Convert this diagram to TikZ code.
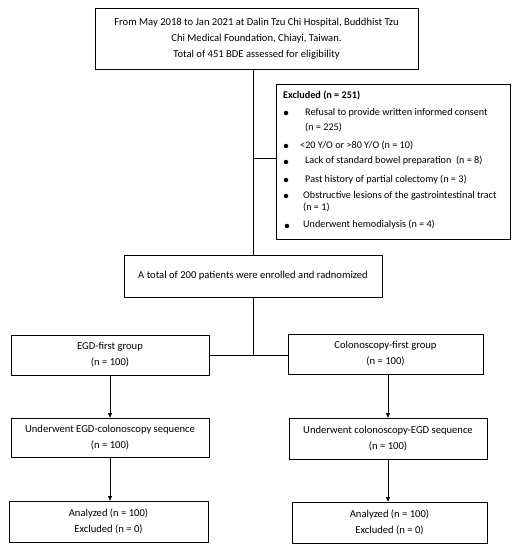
\documentclass[tikz,border=0pt]{standalone}
\usepackage{fontspec}
\setmainfont{Carlito}
\usetikzlibrary{arrows.meta}
\begin{document}
\begin{tikzpicture}[x=1pt,y=-1pt,
  box/.style={draw=black,line width=0.7pt,inner sep=0pt,align=center,
    font=\fontsize{10.6}{16}\selectfont},
  conn/.style={draw=black,line width=0.7pt},
  arr/.style={conn,-{Triangle[length=4.5pt,width=4pt]}},
  ex/.style={anchor=mid west,inner sep=0pt,font=\fontsize{10.2}{12}\selectfont},
  dot/.style={circle,fill=black,inner sep=0pt,minimum size=4.5pt}]
\useasboundingbox (0,0) rectangle (518,550);
\node[box,minimum width=323pt,minimum height=61pt] (top) at (256.5,38.5)
  {From May 2018 to Jan 2021 at Dalin Tzu Chi Hospital, Buddhist Tzu\\
   Chi Medical Foundation, Chiayi, Taiwan.\\
   Total of 451 BDE assessed for eligibility};
\node[box,minimum width=234pt,minimum height=155pt] (excl) at (393,161.5) {};
\node[box,minimum width=258pt,minimum height=42pt] (enr) at (253,276)
  {A total of 200 patients were enrolled and radnomized};
\node[box,minimum width=198pt,minimum height=40pt] (egd) at (110,355)
  {EGD-first group\\(n = 100)};
\node[box,minimum width=195pt,minimum height=40pt] (col) at (385.5,354)
  {Colonoscopy-first group\\(n = 100)};
\node[box,minimum width=198pt,minimum height=39pt] (und1) at (110,437.5)
  {Underwent EGD-colonoscopy sequence\\(n = 100)};
\node[box,minimum width=198pt,minimum height=41pt] (und2) at (388,438.5)
  {Underwent colonoscopy-EGD sequence\\(n = 100)};
\node[box,minimum width=199pt,minimum height=41pt] (an1) at (108.5,521.5)
  {Analyzed (n = 100)\\Excluded (n = 0)};
\node[box,minimum width=195pt,minimum height=41pt] (an2) at (389.5,522.5)
  {Analyzed (n = 100)\\Excluded (n = 0)};
% excluded contents
\node[ex,font=\fontsize{10.2}{12}\selectfont\bfseries] (exh) at (283,96) {Excluded (n = 251)};
\node[dot] (d1) at (286,113) {};
\node[ex] (t1) at (305,113) {Refusal to provide written informed consent};
\node[ex] (t1b) at (305,128) {(n = 225)};
\node[dot] (d2) at (286,146) {};
\node[ex] (t2) at (300,146) {<20 Y/O or >80 Y/O (n = 10)};
\node[dot] (d3) at (286,162) {};
\node[ex] (t3) at (305,161) {Lack of standard bowel preparation\ \ (n = 8)};
\node[dot] (d4) at (286,180) {};
\node[ex] (t4) at (305,180) {Past history of partial colectomy (n = 3)};
\node[dot] (d5) at (286,196) {};
\node[ex] (t5) at (303,196) {Obstructive lesions of the gastrointestinal tract};
\node[ex] (t5b) at (303,208) {(n = 1)};
\node[dot] (d6) at (287,226) {};
\node[ex] (t6) at (303,225) {Underwent hemodialysis (n = 4)};
% connectors
\coordinate (brx) at (252,158);
\draw[conn] (enr.north |- top.south) -- (enr.north);
\draw[conn] (enr.north |- brx) -- (excl.west |- brx);
\draw[conn] (enr.south) -- (enr.south |- egd.east);
\draw[conn] (egd.east) -- (egd.east -| col.west);
\draw[arr] (egd.south) -- (und1.north);
\draw[arr] (und2.north |- col.south) -- (und2.north);
\draw[arr] (und1.south) -- (und1.south |- an1.north);
\draw[arr] (und2.south) -- (und2.south |- an2.north);
\end{tikzpicture}
\end{document}
